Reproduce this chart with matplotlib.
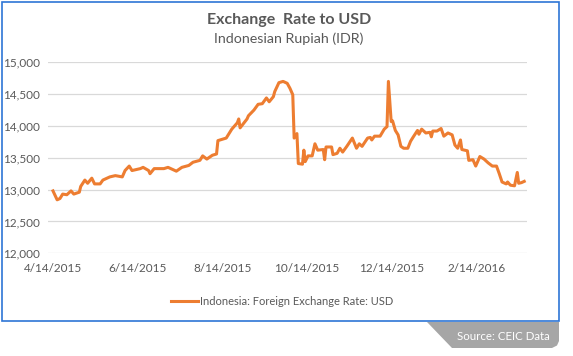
import matplotlib
matplotlib.use("Agg")
import matplotlib.pyplot as plt
from matplotlib.patches import Rectangle, Polygon
import pandas as pd

dates = ["2015-04-14", "2015-04-17", "2015-04-19", "2015-04-21", "2015-04-24", "2015-04-27",
         "2015-04-29", "2015-05-03", "2015-05-04", "2015-05-07", "2015-05-09", "2015-05-12",
         "2015-05-14", "2015-05-18", "2015-05-20", "2015-05-25", "2015-05-29", "2015-06-03",
         "2015-06-05", "2015-06-08", "2015-06-10", "2015-06-16", "2015-06-18", "2015-06-22",
         "2015-06-23", "2015-06-26", "2015-07-03", "2015-07-06", "2015-07-12", "2015-07-16",
         "2015-07-21", "2015-07-24", "2015-07-29", "2015-07-31", "2015-08-03", "2015-08-07",
         "2015-08-10", "2015-08-11", "2015-08-14", "2015-08-17", "2015-08-21", "2015-08-25",
         "2015-08-26", "2015-08-27", "2015-09-01", "2015-09-02", "2015-09-06", "2015-09-09",
         "2015-09-12", "2015-09-15", "2015-09-17", "2015-09-20", "2015-09-21", "2015-09-24",
         "2015-09-27", "2015-09-30", "2015-10-02", "2015-10-04", "2015-10-05", "2015-10-07",
         "2015-10-08", "2015-10-11", "2015-10-12", "2015-10-13", "2015-10-15", "2015-10-18",
         "2015-10-20", "2015-10-22", "2015-10-26", "2015-10-27", "2015-10-28", "2015-11-01",
         "2015-11-02", "2015-11-05", "2015-11-07", "2015-11-09", "2015-11-12", "2015-11-16",
         "2015-11-19", "2015-11-21", "2015-11-23", "2015-11-27", "2015-11-29", "2015-11-30",
         "2015-12-02", "2015-12-06", "2015-12-09", "2015-12-11", "2015-12-12", "2015-12-14",
         "2015-12-15", "2015-12-17", "2015-12-19", "2015-12-21", "2015-12-23", "2015-12-26",
         "2015-12-28", "2015-12-30", "2016-01-02", "2016-01-03", "2016-01-05", "2016-01-08",
         "2016-01-11", "2016-01-12", "2016-01-13", "2016-01-16", "2016-01-19", "2016-01-21",
         "2016-01-24", "2016-01-27", "2016-01-29", "2016-01-31", "2016-02-02", "2016-02-03",
         "2016-02-07", "2016-02-08", "2016-02-11", "2016-02-13", "2016-02-16", "2016-02-19",
         "2016-02-22", "2016-02-25", "2016-02-28", "2016-03-01", "2016-03-03", "2016-03-06",
         "2016-03-07", "2016-03-09", "2016-03-12", "2016-03-14", "2016-03-15", "2016-03-17",
         "2016-03-19"]
rate = [12980, 12840, 12860, 12930, 12920, 12980,
        12930, 12960, 13050, 13150, 13100, 13180,
        13090, 13090, 13150, 13200, 13220, 13200,
        13300, 13370, 13300, 13330, 13350, 13300,
        13250, 13330, 13330, 13350, 13290, 13350,
        13380, 13430, 13460, 13530, 13480, 13540,
        13560, 13770, 13790, 13810, 13950, 14050,
        14110, 13970, 14110, 14160, 14250, 14340,
        14350, 14440, 14380, 14460, 14540, 14680,
        14700, 14670, 14590, 14490, 13810, 13880,
        13410, 13400, 13620, 13440, 13530, 13530,
        13720, 13620, 13630, 13470, 13670, 13670,
        13550, 13570, 13650, 13590, 13680, 13810,
        13650, 13720, 13680, 13810, 13820, 13780,
        13840, 13840, 13950, 13990, 14700, 14070,
        14080, 13930, 13860, 13680, 13650, 13650,
        13760, 13830, 13930, 13870, 13950, 13890,
        13900, 13830, 13920, 13920, 13960, 13840,
        13890, 13860, 13700, 13650, 13780, 13630,
        13610, 13460, 13470, 13370, 13520, 13480,
        13420, 13370, 13370, 13250, 13120, 13090,
        13120, 13070, 13060, 13270, 13100, 13110,
        13130]
tick_dates = ["2015-04-14", "2015-06-14", "2015-08-14", "2015-10-14", "2015-12-14", "2016-02-14"]
tick_labels = ["4/14/2015", "6/14/2015", "8/14/2015", "10/14/2015", "12/14/2015", "2/14/2016"]
yticks = [12000, 12500, 13000, 13500, 14000, 14500, 15000]

plt.rcParams['font.family'] = ['Lato', 'DejaVu Sans']
gray = '#595959'
orange = '#ED7D31'

W, H = 573, 356
fig = plt.figure(figsize=(W / 100, H / 100), dpi=100)
fig.patch.set_facecolor('white')

# blue frame round the chart
fig.add_artist(Rectangle((1.5 / W, 1 - 320.5 / H), 557.5 / W, 319 / H, transform=fig.transFigure,
                         fill=False, edgecolor='#2E75D6', lw=1.2))

# source tab
tab = Polygon([(427 / W, 1 - 322 / H), (559 / W, 1 - 322 / H), (559 / W, 1 - 341 / H),
               (557 / W, 1 - 345.5 / H), (552 / W, 1 - 348 / H), (452 / W, 1 - 348 / H)],
              closed=True, transform=fig.transFigure, facecolor='#A6A6A6', edgecolor='none')
fig.add_artist(tab)
fig.text(503 / W, 1 - 336.5 / H, "Source: CEIC Data", color='white', fontsize=8.3,
         ha='center', va='center')

ax = fig.add_axes([48 / W, 1 - 253.3 / H, 479 / W, 191 / H])
d = pd.to_datetime(dates)
ax.plot(d, rate, color=orange, lw=2.2, solid_joinstyle='round',
        label="Indonesia: Foreign Exchange Rate: USD")

start = pd.Timestamp("2015-04-14")
ax.set_xlim(start - pd.Timedelta(days=3.6), start + pd.Timedelta(days=342))
ax.set_ylim(12000, 15000)
ax.set_yticks(yticks)
ax.set_yticklabels([f"{v:,}" for v in yticks])
ax.set_xticks(pd.to_datetime(tick_dates))
ax.set_xticklabels(tick_labels)
ax.tick_params(axis='both', length=0, colors=gray, labelsize=8.5)
ax.tick_params(axis='y', pad=6)
ax.tick_params(axis='x', pad=7)
ax.grid(axis='y', color='#D9D9D9', lw=0.9)
ax.set_axisbelow(True)
for s in ax.spines.values():
    s.set_visible(False)

fig.text(289 / W, 1 - 20 / H, "Exchange  Rate to USD", color=gray, fontsize=11.5,
         fontweight='bold', ha='center', va='center')
fig.text(289 / W, 1 - 38.5 / H, "Indonesian Rupiah (IDR)", color=gray, fontsize=10.3,
         ha='center', va='center')

fig.legend(loc='center', bbox_to_anchor=(282.5 / W, 1 - 301.5 / H), frameon=False,
           fontsize=8, labelcolor=gray, handlelength=2.4, handletextpad=0.2)

fig.savefig("out.png", dpi=100)
